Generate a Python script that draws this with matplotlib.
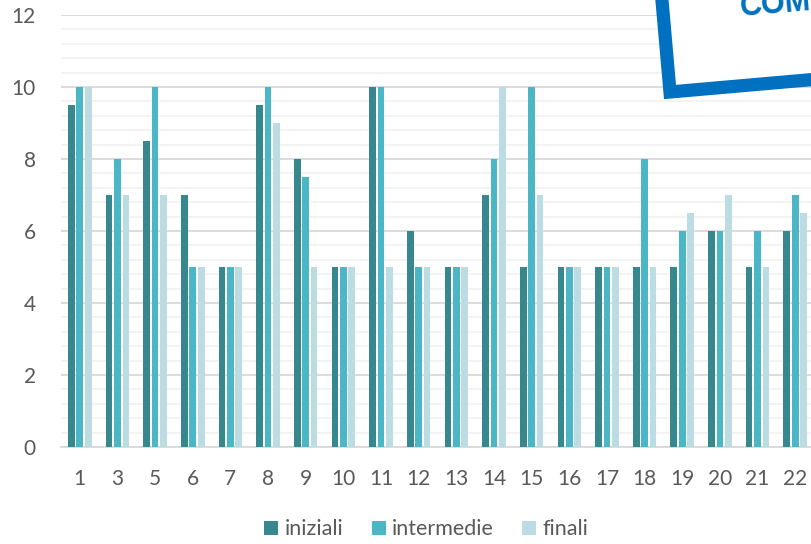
import matplotlib.pyplot as plt
import numpy as np
from matplotlib.patches import Rectangle

# punteggi per alunno
alunni = ['1', '3', '5', '6', '7', '8', '9', '10', '11', '12', '13', '14',
          '15', '16', '17', '18', '19', '20', '21', '22']
iniziali = [9.5, 7, 8.5, 7, 5, 9.5, 8, 5, 10, 6, 5, 7, 5, 5, 5, 5, 5, 6, 5, 6]
intermedie = [10, 8, 10, 5, 5, 10, 7.5, 5, 10, 5, 5, 8, 10, 5, 5, 8, 6, 6, 6, 7]
finali = [10, 7, 7, 5, 5, 9, 5, 5, 5, 5, 5, 10, 7, 5, 5, 5, 6.5, 7, 5, 6.5]

colori = ['#37878F', '#4BB6C6', '#BBDCE2']

plt.rcParams['font.family'] = ['Lato', 'DejaVu Sans']

fig = plt.figure(figsize=(8.12, 5.44), dpi=100)
ax = fig.add_axes([61 / 812, 97 / 544, 753 / 812, 432 / 544])

x = np.arange(len(alunni))
passo = 0.223
larg = 0.178
serie = [('iniziali', iniziali), ('intermedie', intermedie), ('finali', finali)]
for i, (nome, valori) in enumerate(serie):
    ax.bar(x + (i - 1) * passo, valori, larg, color=colori[i], label=nome, zorder=3)

ax.set_xlim(-0.5, len(alunni) - 0.5)
ax.set_ylim(0, 12)
ax.set_yticks(np.arange(0, 13, 2))
ax.set_yticks(np.arange(0, 12.01, 0.4), minor=True)
ax.set_xticks(x)
ax.set_xticklabels(alunni)
ax.grid(axis='y', which='major', color='#D9D9D9', linewidth=1.3, zorder=0)
ax.grid(axis='y', which='minor', color='#F2F2F2', linewidth=1.3, zorder=0)
ax.tick_params(which='both', length=0, labelsize=15, colors='#595959')
ax.tick_params(axis='x', pad=16)
ax.tick_params(axis='y', pad=18)
for s in ['top', 'right', 'left']:
    ax.spines[s].set_visible(False)
ax.spines['bottom'].set_color('#D9D9D9')
ax.spines['bottom'].set_linewidth(1.3)

leg = fig.legend(loc='center', bbox_to_anchor=(0.525, 0.027), ncol=3, frameon=False,
                 fontsize=15.5, handlelength=0.65, handleheight=0.65,
                 handletextpad=0.3, columnspacing=1.3)
for t in leg.get_texts():
    t.set_color('#595959')

# riquadro inclinato in alto a destra
riquadro = Rectangle((6.70, 4.52), 3.0, 2.0, angle=5, facecolor='white',
                     edgecolor='#0070C0', linewidth=9.5,
                     transform=fig.dpi_scale_trans, zorder=10)
fig.patches.append(riquadro)
fig.text(7.41, 5.285, 'COM', transform=fig.dpi_scale_trans, rotation=5,
         rotation_mode='anchor', ha='left', va='baseline', color='#0070C0',
         fontsize=22, fontweight='bold', family='Liberation Sans', zorder=11)

fig.savefig('out.png', dpi=100)
